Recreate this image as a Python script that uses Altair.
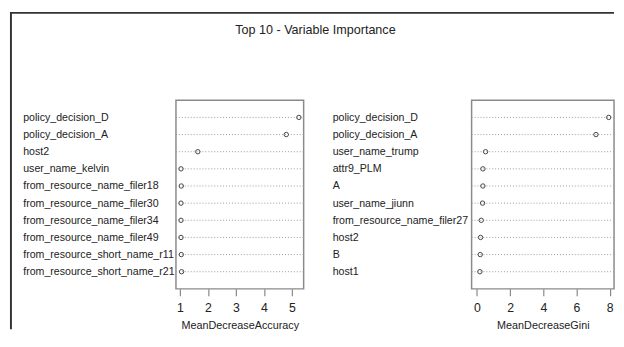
import altair as alt
import pandas as pd

TITLE = "Top 10 - Variable Importance"

acc_vars = ["policy_decision_D", "policy_decision_A", "host2", "user_name_kelvin",
            "from_resource_name_filer18", "from_resource_name_filer30",
            "from_resource_name_filer34", "from_resource_name_filer49",
            "from_resource_short_name_r11", "from_resource_short_name_r21"]
acc_vals = [5.25, 4.80, 1.64, 1.04, 1.05, 1.04, 1.04, 1.04, 1.05, 1.06]
acc_ticks = [1, 2, 3, 4, 5]

gini_vars = ["policy_decision_D", "policy_decision_A", "user_name_trump", "attr9_PLM",
             "A", "user_name_jiunn", "from_resource_name_filer27", "host2", "B", "host1"]
gini_vals = [7.94, 7.17, 0.52, 0.36, 0.36, 0.34, 0.26, 0.22, 0.20, 0.18]
gini_ticks = [0, 2, 4, 6, 8]

FONT = "'Liberation Sans', Arial, sans-serif"
TXT = "#222222"


def panel(vars_, vals, domain, ticks, xtitle, lab_pad, width, extras=()):
    df = pd.DataFrame({"var": vars_, "val": vals})
    base = alt.Chart(df)
    y = alt.Y("var:N", sort=vars_,
              scale=alt.Scale(type="point", padding=1),
              axis=alt.Axis(title=None, ticks=False, domain=False, grid=False,
                            labelAlign="left", labelBaseline="middle",
                            labelPadding=lab_pad, labelFont=FONT,
                            labelFontSize=10.8, labelColor=TXT, labelLimit=300))
    x = alt.X("val:Q",
              scale=alt.Scale(domain=domain, nice=False, zero=False),
              axis=alt.Axis(values=ticks, title=xtitle, domain=False, grid=False,
                            tickSize=7, tickColor="#888888", tickWidth=1.2,
                            labelPadding=5.6, labelFont=FONT, labelFontSize=12.5,
                            labelColor=TXT, labelFlush=False, format="d",
                            titleFont=FONT, titleFontSize=11,
                            titleFontWeight="normal", titleColor=TXT,
                            titleY=31, titleBaseline="top"))
    rules = base.mark_rule(color="#9a9a9a", strokeDash=[1, 2], strokeWidth=1).encode(y=y)
    pts = base.mark_point(shape="circle", filled=False, size=20, color="#444444",
                          strokeWidth=1, opacity=1).encode(x=x, y=y)
    return alt.layer(rules, pts, *extras).properties(width=width, height=192)


one = pd.DataFrame({"t": [TITLE]})
title_mark = alt.Chart(one).mark_text(font=FONT, fontSize=12.8, color=TXT,
                                      align="center", baseline="alphabetic").encode(
    text="t:N", x=alt.value(142), y=alt.value(-67))
left_border = alt.Chart(one).mark_rule(color="#333333", strokeWidth=2).encode(
    x=alt.value(-168), y=alt.value(-89), y2=alt.value(233))
top_border = alt.Chart(one).mark_rule(color="#333333", strokeWidth=1.6).encode(
    x=alt.value(-169), x2=alt.value(446), y=alt.value(-89))

left = panel(acc_vars, acc_vals, [0.86, 5.42], acc_ticks, "MeanDecreaseAccuracy",
             156, 130, extras=(title_mark, left_border, top_border))
right = panel(gini_vars, gini_vals, [-0.32, 8.26], gini_ticks, "MeanDecreaseGini",
              142, 145)

chart = alt.hconcat(left, right, spacing=171, bounds="flush").properties(
    padding=0, background="white"
).configure_view(stroke="#8a8a8a", strokeWidth=1.5).resolve_scale(y="independent", x="independent")

chart.save("out.html", embed_options={"renderer": "svg", "actions": False})
